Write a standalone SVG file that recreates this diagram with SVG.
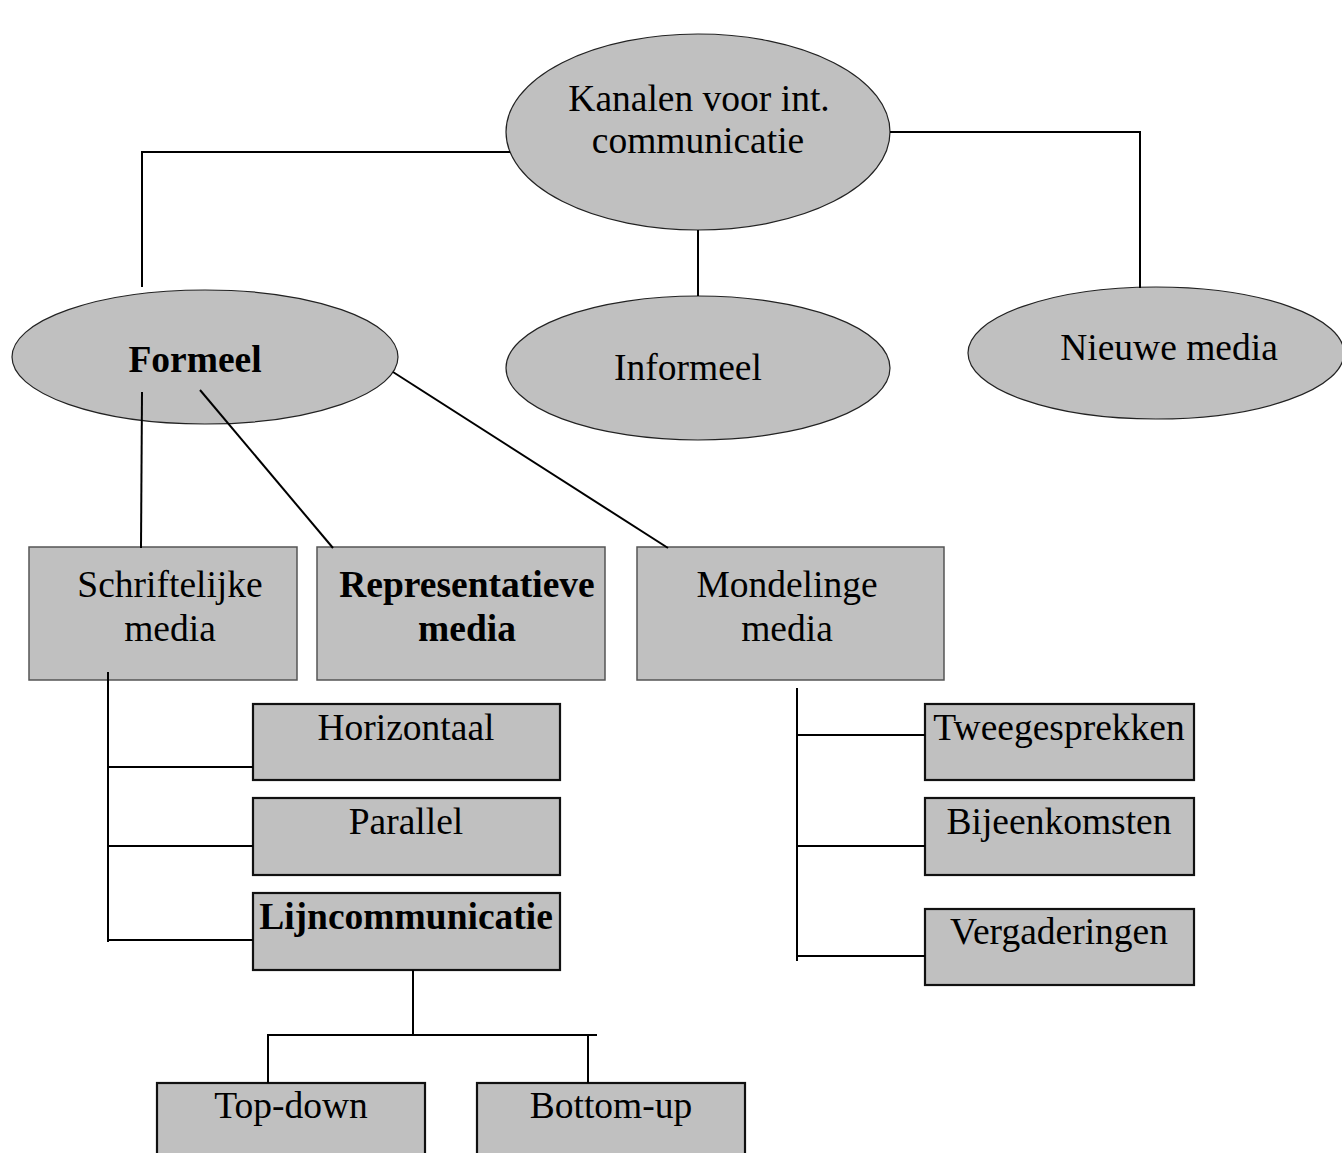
<svg xmlns="http://www.w3.org/2000/svg" width="1342" height="1153" viewBox="0 0 1342 1153">
<style>
text{font-family:"Liberation Serif","Times New Roman",serif;font-size:37.5px;fill:#000;text-anchor:middle}
.b{font-weight:bold}
.el{fill:#c0c0c0;stroke:#222;stroke-width:1.2}
.bx1{fill:#c0c0c0;stroke:#555;stroke-width:1.5}
.bx2{fill:#c0c0c0;stroke:#111;stroke-width:2.2}
.c line,.c polyline{stroke:#000;stroke-width:2;fill:none}
</style>
<rect width="1342" height="1153" fill="#fff"/>
<g id="kanalen"><ellipse class="el" cx="698" cy="132" rx="192" ry="98"/><text x="699" y="111">Kanalen voor int.</text><text x="698" y="153">communicatie</text></g>
<g id="formeel"><ellipse class="el" cx="205" cy="357" rx="193" ry="67"/><text class="b" x="195" y="372">Formeel</text></g>
<g id="informeel"><ellipse class="el" cx="698" cy="368" rx="192" ry="72"/><text x="688" y="380">Informeel</text></g>
<g id="nieuwe"><ellipse class="el" cx="1156" cy="353" rx="188" ry="66"/><text x="1169" y="360">Nieuwe media</text></g>
<g id="schriftelijke"><rect class="bx1" x="29" y="547" width="268" height="133"/><text x="170" y="597">Schriftelijke</text><text x="170" y="641">media</text></g>
<g id="representatieve"><rect class="bx1" x="317" y="547" width="288" height="133"/><text class="b" x="467" y="597">Representatieve</text><text class="b" x="467" y="641">media</text></g>
<g id="mondelinge"><rect class="bx1" x="637" y="547" width="307" height="133"/><text x="787" y="597">Mondelinge</text><text x="787" y="641">media</text></g>
<g id="horizontaal"><rect class="bx2" x="253" y="704" width="307" height="76"/><text x="406" y="740">Horizontaal</text></g>
<g id="parallel"><rect class="bx2" x="253" y="798" width="307" height="77"/><text x="406" y="834">Parallel</text></g>
<g id="lijncommunicatie"><rect class="bx2" x="253" y="893" width="307" height="77"/><text class="b" x="406" y="929">Lijncommunicatie</text></g>
<g id="tweegesprekken"><rect class="bx2" x="925" y="704" width="269" height="76"/><text x="1059" y="740">Tweegesprekken</text></g>
<g id="bijeenkomsten"><rect class="bx2" x="925" y="798" width="269" height="77"/><text x="1059" y="834">Bijeenkomsten</text></g>
<g id="vergaderingen"><rect class="bx2" x="925" y="909" width="269" height="76"/><text x="1059" y="944">Vergaderingen</text></g>
<g id="topdown"><rect class="bx2" x="157" y="1083" width="268" height="80"/><text x="291" y="1118">Top-down</text></g>
<g id="bottomup"><rect class="bx2" x="477" y="1083" width="268" height="80"/><text x="611" y="1118">Bottom-up</text></g>
<g class="c" id="connectors">
<polyline points="510,152 142,152 142,287"/>
<polyline points="890,132 1140,132 1140,288"/>
<line x1="698" y1="230" x2="698" y2="296"/>
<line x1="142" y1="392" x2="141" y2="548"/>
<line x1="200" y1="390" x2="333" y2="548"/>
<line x1="393" y1="372" x2="668" y2="548"/>
<polyline points="108,672 108,942"/>
<line x1="108" y1="767" x2="253" y2="767"/>
<line x1="108" y1="846" x2="253" y2="846"/>
<line x1="108" y1="940" x2="253" y2="940"/>
<line x1="413" y1="970" x2="413" y2="1036"/>
<line x1="267" y1="1035" x2="597" y2="1035"/>
<line x1="268" y1="1035" x2="268" y2="1083"/>
<line x1="588" y1="1035" x2="588" y2="1083"/>
<line x1="797" y1="688" x2="797" y2="961"/>
<line x1="797" y1="735" x2="925" y2="735"/>
<line x1="797" y1="846" x2="925" y2="846"/>
<line x1="797" y1="956" x2="925" y2="956"/>
</g>
</svg>
